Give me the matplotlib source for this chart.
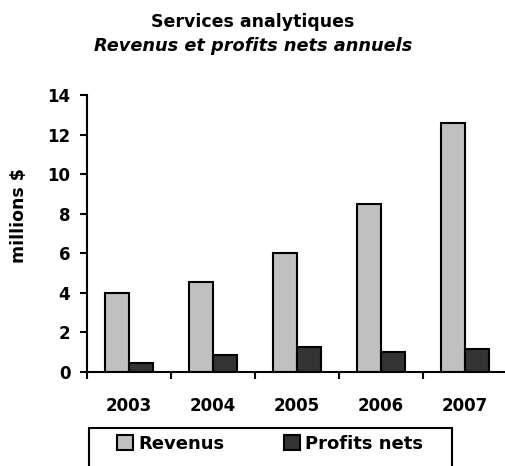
import numpy as np
import matplotlib
matplotlib.use("Agg")
import matplotlib.pyplot as plt
from matplotlib.patches import Rectangle

# Données
annees = ["2003", "2004", "2005", "2006", "2007"]
revenus = [4.0, 4.55, 6.0, 8.5, 12.6]
profits = [0.45, 0.88, 1.25, 1.0, 1.15]

plt.rcParams["font.family"] = ["DejaVu Sans"]
plt.rcParams["font.weight"] = "bold"

fig = plt.figure(figsize=(5.06, 4.66), dpi=100)
ax = fig.add_axes([0.172, 0.2017, 0.83, 0.5943])

x = np.arange(len(annees))
larg = 0.29
ax.bar(x, revenus, width=-larg, align="edge", color="#C0C0C0",
       edgecolor="black", linewidth=1.5, label="Revenus")
ax.bar(x, profits, width=larg, align="edge", color="#333333",
       edgecolor="black", linewidth=1.5, label="Profits nets")

ax.set_xlim(-0.5, 4.5)
ax.set_ylim(0, 14)
ax.set_yticks(range(0, 15, 2))
ax.tick_params(axis="y", labelsize=12, width=1.5, length=5, pad=7, direction="out")

# graduations entre les catégories, étiquettes au centre
ax.set_xticks(np.arange(-0.5, 5, 1))
ax.set_xticklabels([])
ax.set_xticks(x, minor=True)
ax.set_xticklabels(annees, minor=True)
ax.tick_params(axis="x", which="major", width=1.5, length=5, direction="out")
ax.tick_params(axis="x", which="minor", length=0, labelsize=12, pad=18)

for s in ["top", "right"]:
    ax.spines[s].set_visible(False)
for s in ["left", "bottom"]:
    ax.spines[s].set_linewidth(1.5)

fig.text(19 / 506, 1 - 216 / 466, "millions $", rotation=90, ha="center",
         va="center", fontsize=12.5, fontweight="bold")

fig.text(0.5, 1 - 22 / 466, "Services analytiques", ha="center", va="center",
         fontsize=12.5, fontweight="bold")
fig.text(0.5, 1 - 46 / 466, "Revenus et profits nets annuels", ha="center",
         va="center", fontsize=12.8, fontweight="bold", style="italic")

# cadre de la légende (coupé en bas comme l'original)
fig.patches.append(Rectangle((89 / 506, -0.1), (452 - 89) / 506, 0.1 + 1 - 428 / 466,
                             transform=fig.transFigure, fill=False,
                             edgecolor="black", linewidth=1.5))
leg = fig.legend(loc="center left", bbox_to_anchor=(117 / 506, 1 - 444 / 466),
                 ncol=2, fontsize=13, frameon=False, handlelength=0.88,
                 handleheight=0.88, handletextpad=0.28, columnspacing=3.3,
                 borderpad=0, borderaxespad=0)

plt.savefig("out.png", dpi=100)
